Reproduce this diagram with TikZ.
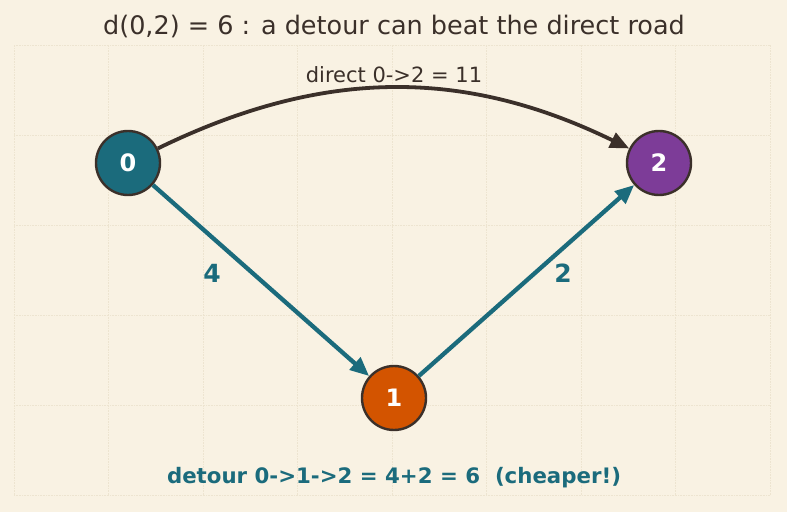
\documentclass[tikz,border=0pt]{standalone}
\usepackage{fontspec}
\setmainfont{DejaVu Sans}
\usetikzlibrary{arrows.meta,positioning,calc}
\definecolor{paper}{HTML}{F9F2E3}
\definecolor{gridc}{HTML}{EDE4D0}
\definecolor{ink}{HTML}{3B302A}
\definecolor{tealc}{HTML}{1B6B7C}
\definecolor{orangec}{HTML}{D35400}
\definecolor{purplec}{HTML}{7D3C98}

\begin{document}
\begin{tikzpicture}[x=1pt,y=1pt,
		city/.style={circle,draw=ink,line width=2.4pt,minimum size=64pt,inner sep=0pt,
			text=white,font=\fontsize{24}{26}\selectfont\bfseries},
		road/.style={draw=tealc,line width=4.3pt,-{Triangle[length=19pt,width=16pt]}},
		direct/.style={draw=ink,line width=3.8pt,-{Triangle[length=19pt,width=16pt]}},
		weight/.style={text=tealc,font=\fontsize{25}{27}\selectfont\bfseries}]
		\fill[paper] (0,0) rectangle (787,512);
		\useasboundingbox (0,0) rectangle (787,512);
		% faint grid
		\foreach \gx in {0,...,8}
			\draw[gridc,densely dotted,line width=0.6pt] (14+94.5*\gx,17) -- (14+94.5*\gx,467);
		\foreach \gy in {0,...,5}
			\draw[gridc,densely dotted,line width=0.6pt] (14,17+90*\gy) -- (770,17+90*\gy);
		%
		\node[text=ink,font=\fontsize{25.5}{28}\selectfont] (title) at (394,486)
			{d(0,2) = 6 : a detour can beat the direct road};
		\node[city,fill=tealc] (c0) at (128,349) {0};
		\node[city,fill=orangec] (c1) at (394,114) {1};
		\node[city,fill=purplec] (c2) at (659,349) {2};
		\node[text=ink,font=\fontsize{21}{23}\selectfont] (dlabel) at (394,437) {direct 0->2 = 11};
		%
		\draw[direct] (c0) to[bend left=26] (c2);
		\draw[road] (c0) -- (c1);
		\draw[road] (c1) -- (c2);
		\node[weight] (w01) at (212,239) {4};
		\node[weight] (w12) at (563,239) {2};
		%
		\node[text=tealc,font=\fontsize{21.3}{23}\selectfont\bfseries] (summary) at (394,34)
			{detour 0->1->2 = 4+2 = 6 \ (cheaper!)};
\end{tikzpicture}
\end{document}
